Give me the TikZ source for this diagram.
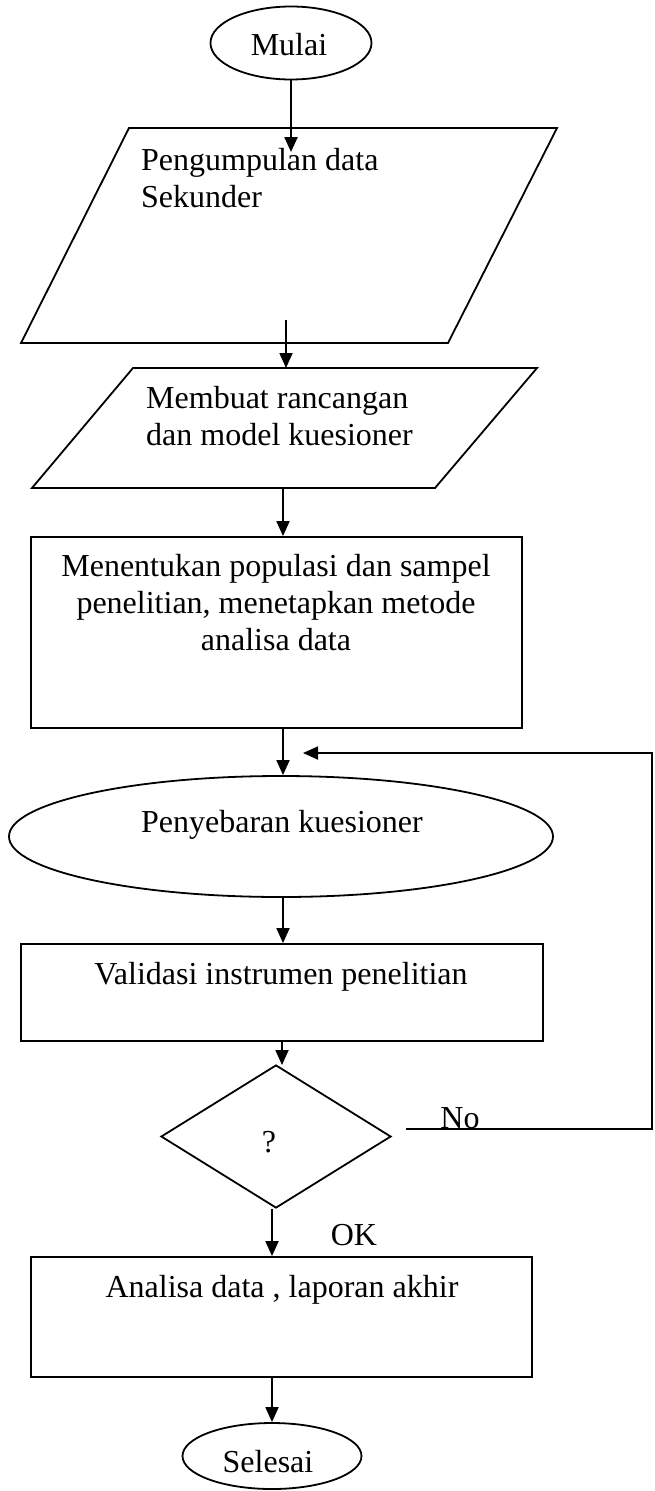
\documentclass[tikz,border=0pt]{standalone}
\usepackage{fontspec}
\setmainfont{Liberation Serif}
\usetikzlibrary{shapes.geometric,arrows.meta}
\begin{document}
\begin{tikzpicture}[x=1pt,y=-1pt,
  shp/.style={draw,line width=1.8pt,inner sep=0pt},
  txt/.style={inner sep=0pt,font=\fontsize{32}{37}\selectfont},
  arr/.style={line width=1.8pt,-{Triangle[length=15pt,width=13pt]}},
  ln/.style={line width=1.8pt}]
\useasboundingbox (0,0) rectangle (654,1491);
% shapes
\node[shp,ellipse,minimum width=161pt,minimum height=73pt] (mulai) at (291,43) {};
\node[txt,anchor=base] (mulait) at (289,55) {Mulai};
\draw[ln] (129,128) coordinate (p1tl) -- (557,128) -- (448,343) -- (21,343) -- cycle;
\node[txt,anchor=base west,align=left] (p1t) at (141,207) {Pengumpulan data\\Sekunder};
\draw[ln] (133,368) coordinate (p2tl) -- (537,368) -- (435,488) -- (32,488) -- cycle;
\node[txt,anchor=base west,align=left] (p2t) at (146,445) {Membuat rancangan\\dan model kuesioner};
\node[shp,rectangle,minimum width=491pt,minimum height=191pt] (r3) at (276.5,632.5) {};
\node[txt,anchor=base,align=center] (r3t) at (276,650) {Menentukan populasi dan sampel\\penelitian, menetapkan metode\\analisa data};
\node[shp,ellipse,minimum width=544pt,minimum height=121pt] (sebar) at (281,836.5) {};
\node[txt,anchor=base] (sebart) at (282,832) {Penyebaran kuesioner};
\node[shp,rectangle,minimum width=522pt,minimum height=97pt] (valid) at (282,992.5) {};
\node[txt,anchor=base] (validt) at (281,984) {Validasi instrumen penelitian};
\node[shp,diamond,minimum width=230pt,minimum height=143pt] (dec) at (276,1136.5) {};
\node[txt,anchor=base] (q) at (269,1152) {?};
\node[shp,rectangle,minimum width=501pt,minimum height=120pt] (anal) at (281.5,1317) {};
\node[txt,anchor=base] (analt) at (282,1297) {Analisa data , laporan akhir};
\node[shp,ellipse,minimum width=179pt,minimum height=66pt] (selesai) at (272,1456) {};
\node[txt,anchor=base] (selesait) at (268,1472) {Selesai};
\node[txt,anchor=base] (no) at (460,1128) {No};
\node[txt,anchor=base] (ok) at (354,1245) {OK};
% connector points
\coordinate (a1) at (291,152);
\coordinate (b0) at (286,320);
\coordinate (b1) at (286,368);
\coordinate (c0) at (283,488);
\coordinate (d0) at (283,728);
\coordinate (e0) at (283,897);
\coordinate (f0) at (282,1041);
\coordinate (f1) at (282,1065);
\coordinate (g0) at (272,1209);
\coordinate (h0) at (272,1377);
\coordinate (n0) at (406,1129);
\coordinate (n1) at (652,1129);
\coordinate (n2) at (652,753);
\coordinate (n3) at (303,753);
% connectors
\draw[arr,line width=2.4pt] (mulai.south) -- (a1);
\draw[arr] (b0) -- (b1);
\draw[arr] (c0) -- (c0 |- r3.north);
\draw[arr] (d0) -- (d0 |- sebar.north);
\draw[arr] (e0) -- (e0 |- valid.north);
\draw[arr] (f0) -- (f1);
\draw[arr] (g0) -- (g0 |- anal.north);
\draw[arr] (h0) -- (h0 |- selesai.north);
\draw[arr] (n0) -- (n1) -- (n2) -- (n3);
\end{tikzpicture}
\end{document}
